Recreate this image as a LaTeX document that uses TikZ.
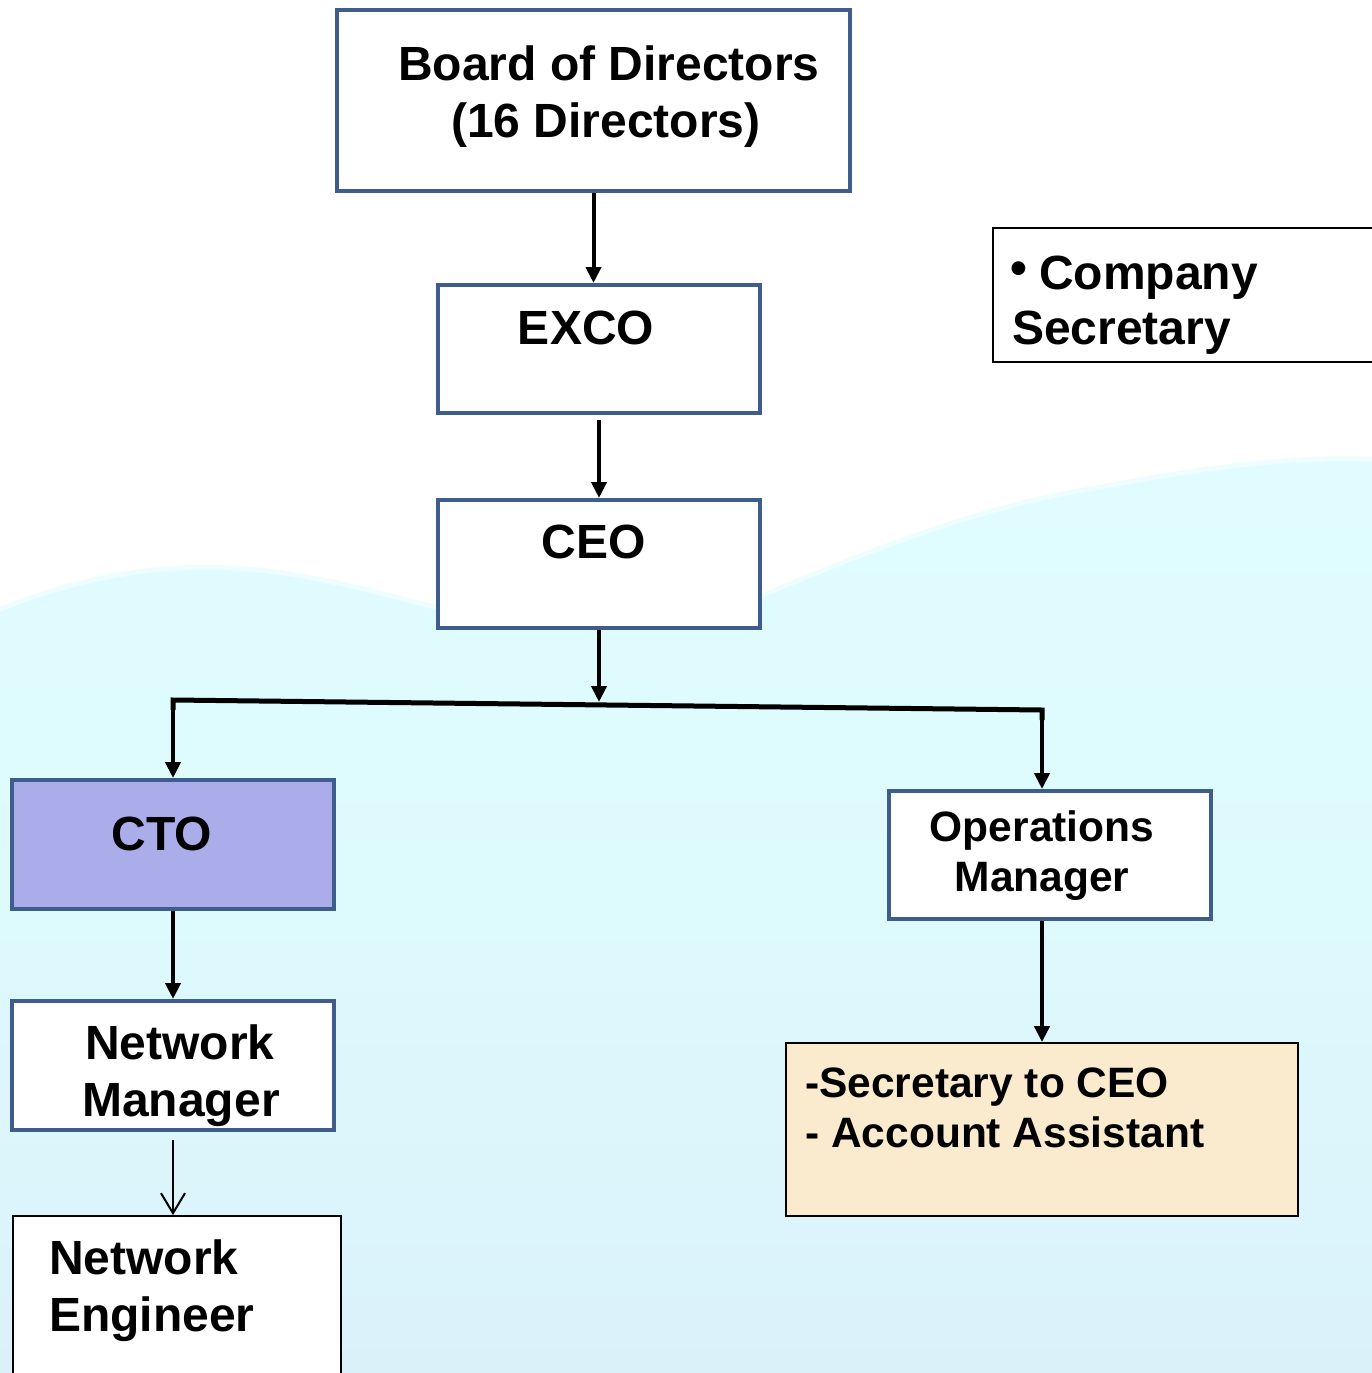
\documentclass[tikz,border=0pt]{standalone}
\usepackage{fontspec}
\setmainfont{Liberation Sans}
\usetikzlibrary{arrows.meta,calc}
\definecolor{boxblue}{HTML}{3E5D8C}
\definecolor{ctofill}{HTML}{ABADEB}
\definecolor{secfill}{HTML}{FAEBCF}
\definecolor{hilltop}{HTML}{E0FCFE}
\definecolor{hillmid}{HTML}{DDFAFD}
\definecolor{hillbot}{HTML}{DBF1FA}
\definecolor{hilledge}{HTML}{EEFDFE}
\begin{document}
\begin{tikzpicture}[x=1pt,y=-1pt,
  bluebox/.style={draw=boxblue,line width=4pt,fill=white,inner sep=0pt},
  thinbox/.style={draw=black,line width=1.8pt,fill=white,inner sep=0pt},
  big/.style={font=\fontsize{48}{57}\selectfont\bfseries,inner sep=0pt,anchor=base},
  mid/.style={font=\fontsize{42.5}{50}\selectfont\bfseries,inner sep=0pt,anchor=base},
  arr/.style={line width=4pt,-{Triangle[width=15pt,length=16pt]}},
  thinarr/.style={line width=1.5pt,-{Straight Barb[width=24pt,length=20pt,line width=2pt]}}]
\useasboundingbox (0,0) rectangle (1372,1373);
% background
\fill[white] (0,0) rectangle (1372,1373);
\fill[hilledge] (0,607) .. controls (80,575) and (150,563) .. (220,565)
  .. controls (300,567) and (380,591) .. (440,606) -- (760,594)
  .. controls (900,535) and (1000,500) .. (1100,485)
  .. controls (1200,465) and (1300,453) .. (1372,457)
  -- (1372,1373) -- (0,1373) -- cycle;
\shade[top color=hilltop,bottom color=hillbot,middle color=hillmid] (0,612) .. controls (80,580) and (150,568) .. (220,570)
  .. controls (300,572) and (380,596) .. (440,611) -- (760,599)
  .. controls (900,540) and (1000,505) .. (1100,490)
  .. controls (1200,470) and (1300,458) .. (1372,462)
  -- (1372,1373) -- (0,1373) -- cycle;

% boxes
\node[bluebox,minimum width=513pt,minimum height=181pt] (bod) at (593.5,100.5) {};
\node[bluebox,minimum width=322pt,minimum height=128pt] (exco) at (599,349) {};
\node[bluebox,minimum width=322pt,minimum height=128pt] (ceo) at (599,564) {};
\node[bluebox,fill=ctofill,minimum width=322pt,minimum height=129pt] (cto) at (173,844.5) {};
\node[bluebox,minimum width=322pt,minimum height=129pt] (nm) at (173,1065.5) {};
\node[bluebox,minimum width=322pt,minimum height=128pt] (ops) at (1050,855) {};
\node[thinbox,fill=secfill,minimum width=512pt,minimum height=173pt] (sec) at (1042,1129.5) {};
\node[thinbox,minimum width=328pt,minimum height=170pt] (ne) at (177,1301) {};
\node[thinbox,line width=1.5pt,minimum width=400pt,minimum height=134pt] (cs) at (1193,295) {};

% texts
\node[big] (t1) at (609,80) {Board of Directors};
\node[big] (t2) at (606,137) {(16 Directors)};
\node[big] (t3) at (586,344) {EXCO};
\node[big] (t4) at (594,558) {CEO};
\node[big] (t5) at (162,850) {CTO};
\node[big] (t6) at (180,1059) {Network};
\node[big] (t7) at (181,1116) {Manager};
\node[big,anchor=base west] (t8) at (49,1274) {Network};
\node[big,anchor=base west] (t9) at (49,1331) {Engineer};
\node[mid] (t10) at (1042,841) {Operations};
\node[mid] (t11) at (1042,891) {Manager};
\node[mid,anchor=base west] (t12) at (805,1097) {-Secretary to CEO};
\node[mid,anchor=base west] (t13) at (805,1147) {- Account Assistant};
\node[big,anchor=base west] (t14) at (1010,289) {\raisebox{5pt}{•}\hspace{12pt}Company};
\node[big,anchor=base west] (t15) at (1012,344) {Secretary};

% connectors
\coordinate (j) at (599,702);
\coordinate (jl) at (173,700);
\coordinate (jr) at (1042,710);
\draw[arr] (bod.south) -- (bod.south |- exco.north);
\draw[arr] ([yshift=-5pt]exco.south) -- (ceo.north);
\draw[arr] (ceo.south) -- (j);
\draw[line width=5pt,line join=miter] ([yshift=-10pt]jl) -- (jl) -- (jr) -- ([yshift=-10pt]jr);
\draw[arr] (jl) -- (cto.north);
\draw[arr] (jr) -- (jr |- ops.north);
\draw[arr] (cto.south) -- (nm.north);
\draw[thinarr] ([yshift=-8pt]nm.south) -- (nm.south |- ne.north);
\draw[arr] (sec.north |- ops.south) -- (sec.north);
\end{tikzpicture}
\end{document}
